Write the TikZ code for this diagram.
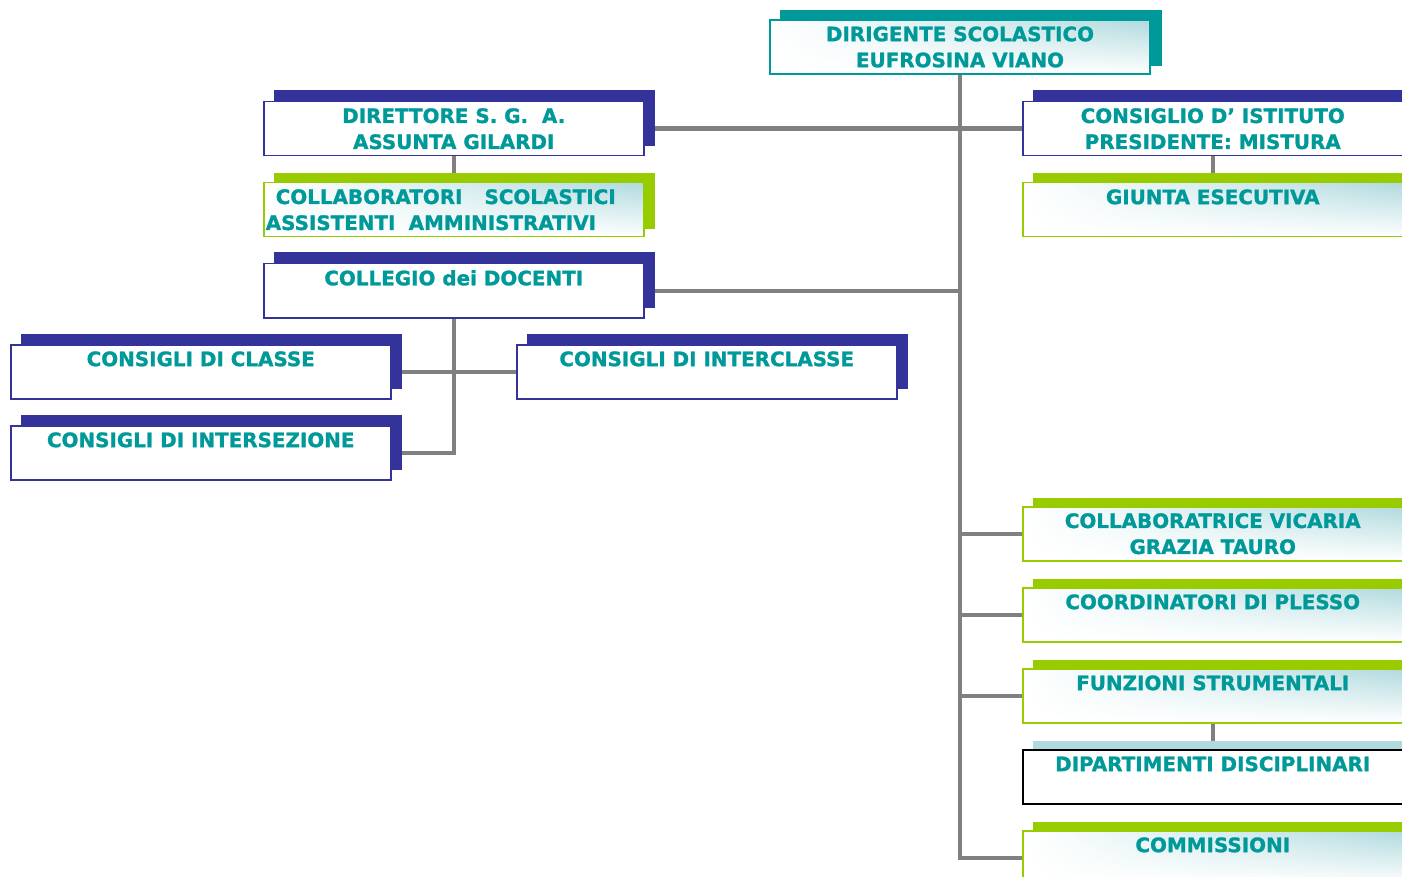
\documentclass[tikz,border=0pt]{standalone}
\usepackage{fontspec}
\setmainfont{DejaVu Sans}[BoldFeatures={FakeBold=1.2}]
\usetikzlibrary{backgrounds,shadings}
\definecolor{navy}{RGB}{51,51,153}
\definecolor{leaf}{RGB}{153,204,0}
\definecolor{sea}{RGB}{0,153,153}
\definecolor{ice}{RGB}{176,218,222}
\definecolor{wire}{RGB}{128,128,128}

\begin{document}
\begin{tikzpicture}[x=1pt, y=-1pt,
    office/.style ={rectangle, draw=navy, line width=1.5pt, fill=white,
      minimum width=380pt, minimum height=54pt, anchor=north west,
      inner sep=0pt, align=center, text=sea,
      font=\bfseries\fontsize{19.9}{26}\selectfont},
    staff/.style ={office, draw=leaf, upper left=white, lower left=white,
      lower right=white, upper right=ice},
    head/.style ={staff, draw=sea, line width=2pt},
    link/.style ={draw=wire, line width=4.5pt}]
   \useasboundingbox (0,0) rectangle (1402,877);

   \node[head] (A)  at (769,19)  {DIRIGENTE SCOLASTICO\\EUFROSINA VIANO};
   \node[office] (B)  at (263,101)  {DIRETTORE S. G.~~A.\\ASSUNTA GILARDI};
   \node[staff, align=left, text width=376pt] (C)  at (263,182)
      {\hspace*{10pt}COLLABORATORI\hspace{22pt}SCOLASTICI\\ASSISTENTI~~AMMINISTRATIVI};
   \node[office] (D)  at (263,263)  {COLLEGIO dei DOCENTI\\\mbox{}};
   \node[office] (E)  at (10,344)  {CONSIGLI DI CLASSE\\\mbox{}};
   \node[office] (F)  at (10,425)  {CONSIGLI DI INTERSEZIONE\\\mbox{}};
   \node[office] (G)  at (516,344)  {CONSIGLI DI INTERCLASSE\\\mbox{}};
   \node[office] (H)  at (1022,101)  {CONSIGLIO D’ ISTITUTO\\PRESIDENTE: MISTURA};
   \node[staff] (I)  at (1022,182)  {GIUNTA ESECUTIVA\\\mbox{}};
   \node[staff] (J)  at (1022,506)  {COLLABORATRICE VICARIA\\GRAZIA TAURO};
   \node[staff] (K)  at (1022,587)  {COORDINATORI DI PLESSO\\\mbox{}};
   \node[staff] (L)  at (1022,668)  {FUNZIONI STRUMENTALI\\\mbox{}};
   \node[office, draw=black] (M)  at (1022,749)  {DIPARTIMENTI DISCIPLINARI\\\mbox{}};
   \node[staff] (N)  at (1022,830)  {COMMISSIONI\\\mbox{}};

   \begin{scope}[on background layer]
      \draw[link] (A.south) -- (A.south |- N.west) -- (N.west);
   \draw[link] (B.east) -- (H.west);
   \draw[link] (D.east) -- (D.east -| A.south);
   \foreach \n in {J,K,L}
      \draw[link] (\n.west -| A.south) -- (\n.west);
   \draw[link] (B) -- (C);
   \draw[link] (H) -- (I);
   \draw[link] (L) -- (M);
   \draw[link] (D.south) -- (D.south |- F.east) -- (F.east);
   \draw[link] (E.east) -- (G.west);

   \fill[sea] ([shift={(10.5,-8.5)}]A.south west) rectangle ([shift={(10.5,-8.5)}]A.north east);
   \foreach \n in {B,D,E,F,G,H}
      \fill[navy] ([shift={(10.5,-10.5)}]\n.south west) rectangle ([shift={(10.5,-10.5)}]\n.north east);
   \foreach \n in {C,I,J,K,L,N}
      \fill[leaf] ([shift={(10.5,-8.5)}]\n.south west) rectangle ([shift={(10.5,-8.5)}]\n.north east);
   \fill[ice] ([shift={(10.5,-8.5)}]M.south west) rectangle ([shift={(10.5,-8.5)}]M.north east);
   \end{scope}

 \end{tikzpicture}
\end{document}
